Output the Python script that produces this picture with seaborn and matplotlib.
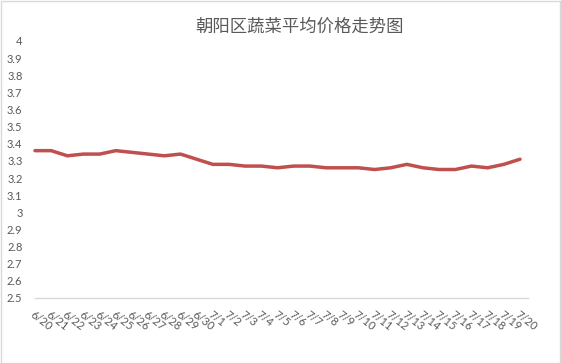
import matplotlib
matplotlib.use("Agg")
import matplotlib.pyplot as plt
import seaborn as sns
import pandas as pd
from matplotlib.patches import Rectangle

dates = ["6/20", "6/21", "6/22", "6/23", "6/24", "6/25", "6/26", "6/27", "6/28", "6/29", "6/30",
         "7/1", "7/2", "7/3", "7/4", "7/5", "7/6", "7/7", "7/8", "7/9", "7/10",
         "7/11", "7/12", "7/13", "7/14", "7/15", "7/16", "7/17", "7/18", "7/19", "7/20"]
prices = [3.36, 3.36, 3.33, 3.34, 3.34, 3.36, 3.35, 3.34, 3.33, 3.34, 3.31,
          3.28, 3.28, 3.27, 3.27, 3.26, 3.27, 3.27, 3.26, 3.26, 3.26,
          3.25, 3.26, 3.28, 3.26, 3.25, 3.25, 3.27, 3.26, 3.28, 3.31]
y_ticks = [2.5, 2.6, 2.7, 2.8, 2.9, 3.0, 3.1, 3.2, 3.3, 3.4, 3.5, 3.6, 3.7, 3.8, 3.9, 4.0]
y_labels = ["2.5", "2.6", "2.7", "2.8", "2.9", "3", "3.1", "3.2", "3.3", "3.4",
            "3.5", "3.6", "3.7", "3.8", "3.9", "4"]
title = "朝阳区蔬菜平均价格走势图"

sns.set_theme(style="white")
plt.rcParams["font.family"] = ["Noto Sans CJK SC", "DejaVu Sans"]

df = pd.DataFrame({"idx": range(len(dates)), "price": prices})

W, H = 561, 363
fig = plt.figure(figsize=(W / 100, H / 100), dpi=100)
fig.patch.set_facecolor("white")
fig.add_artist(Rectangle((0.5 / W, 0.5 / H), 1 - 1.5 / W, 1 - 1.5 / H, transform=fig.transFigure,
                         fill=False, edgecolor="#D9D9D9", linewidth=1.0))

left_px, right_px, top_px, bot_px = 35, 528, 41, 298
ax = fig.add_axes([left_px / W, 1 - bot_px / H, (right_px - left_px) / W, (bot_px - top_px) / H])

sns.lineplot(data=df, x="idx", y="price", ax=ax, color="#C0504D", linewidth=2.5)
for l in ax.lines:
    l.set_clip_on(False)
    l.set_solid_joinstyle("round")

step = (520 - 35) / (len(dates) - 1)
ax.set_xlim(0, (right_px - left_px) / step)
ax.set_ylim(2.5, 4.0)

ax.set_yticks(y_ticks)
ax.set_yticklabels(y_labels, fontsize=8, color="#595959", family=["Lato", "DejaVu Sans"])
ax.set_xticks(range(len(dates)))
ax.set_xticklabels(dates, fontsize=8, color="#595959", rotation=-38,
                   ha="left", va="top", rotation_mode="anchor", family=["Lato", "DejaVu Sans"])
ax.tick_params(axis="y", length=0, pad=9)
ax.tick_params(axis="x", length=0, pad=8)
ax.set_xlabel("")
ax.set_ylabel("")

for s in ["top", "left", "right"]:
    ax.spines[s].set_visible(False)
ax.spines["bottom"].set_color("#D9D9D9")
ax.spines["bottom"].set_linewidth(1.0)
ax.grid(False)

fig.text(300 / W, 1 - 27 / H, title, ha="center", va="center", fontsize=12.5, color="#595959")

fig.savefig("out.png", dpi=100)
